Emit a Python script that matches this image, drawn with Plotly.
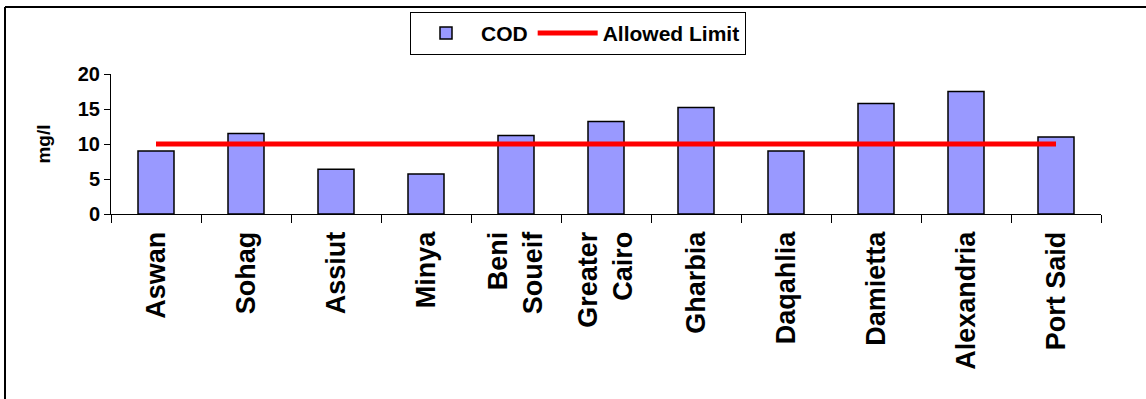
import plotly.graph_objects as go

# Governorates and measured COD values (mg/l)
regions = ["Aswan", "Sohag", "Assiut", "Minya", "Beni<br>Soueif", "Greater<br>Cairo",
           "Gharbia", "Daqahlia", "Damietta", "Alexandria", "Port Said"]
cod = [9.0, 11.5, 6.4, 5.7, 11.2, 13.2, 15.2, 9.0, 15.8, 17.5, 11.0]
allowed_limit = [10] * len(regions)
y_ticks = [0, 5, 10, 15, 20]

W, H = 1146, 399
ML, MR, MT, MB = 111, 45, 72, 185
PW, PH = W - ML - MR, H - MT - MB

def px_x(px):
    return (px - ML) / PW

def px_y(py):
    return 1 + (MT - py) / PH

font_main = dict(family="Liberation Sans, Arial, sans-serif", color="black", weight="bold")

fig = go.Figure()
fig.add_trace(go.Bar(
    x=regions, y=cod, name="COD",
    marker=dict(color="#9999FF", line=dict(color="black", width=1.5)),
    width=0.4,
))
fig.add_trace(go.Scatter(
    x=regions, y=allowed_limit, name="Allowed Limit", mode="lines",
    line=dict(color="#FF0000", width=5),
))

fig.update_layout(
    width=W, height=H,
    margin=dict(l=ML, r=MR, t=MT, b=MB),
    paper_bgcolor="white", plot_bgcolor="white",
    showlegend=True,
    legend=dict(
        orientation="h", x=px_x(578), xanchor="center", y=px_y(9), yanchor="top",
        bordercolor="black", borderwidth=1, bgcolor="white",
        font=dict(size=21, **font_main), itemwidth=60,
        tracegroupgap=0,
    ),
    shapes=[
        dict(type="line", xref="paper", yref="paper", x0=px_x(5), x1=px_x(5),
             y0=px_y(4), y1=px_y(420), line=dict(color="black", width=2)),
        dict(type="line", xref="paper", yref="paper", x0=px_x(5), x1=px_x(1160),
             y0=px_y(4), y1=px_y(4), line=dict(color="black", width=2)),
    ],
)
fig.update_xaxes(
    showline=True, linecolor="black", linewidth=1,
    ticks="outside", ticklen=8, tickcolor="black", tickson="boundaries",
    tickangle=-90, tickfont=dict(size=27, **font_main), ticklabelstandoff=6,
    showgrid=False,
)
fig.update_yaxes(
    range=[0, 20], tickvals=y_ticks,
    showline=True, linecolor="black", linewidth=1,
    ticks="outside", ticklen=6, tickcolor="black",
    tickfont=dict(size=20, **font_main), showgrid=False, zeroline=False,
    title=dict(text="mg/l", font=dict(size=19, **font_main), standoff=22),
)

fig.write_html("out.html")
